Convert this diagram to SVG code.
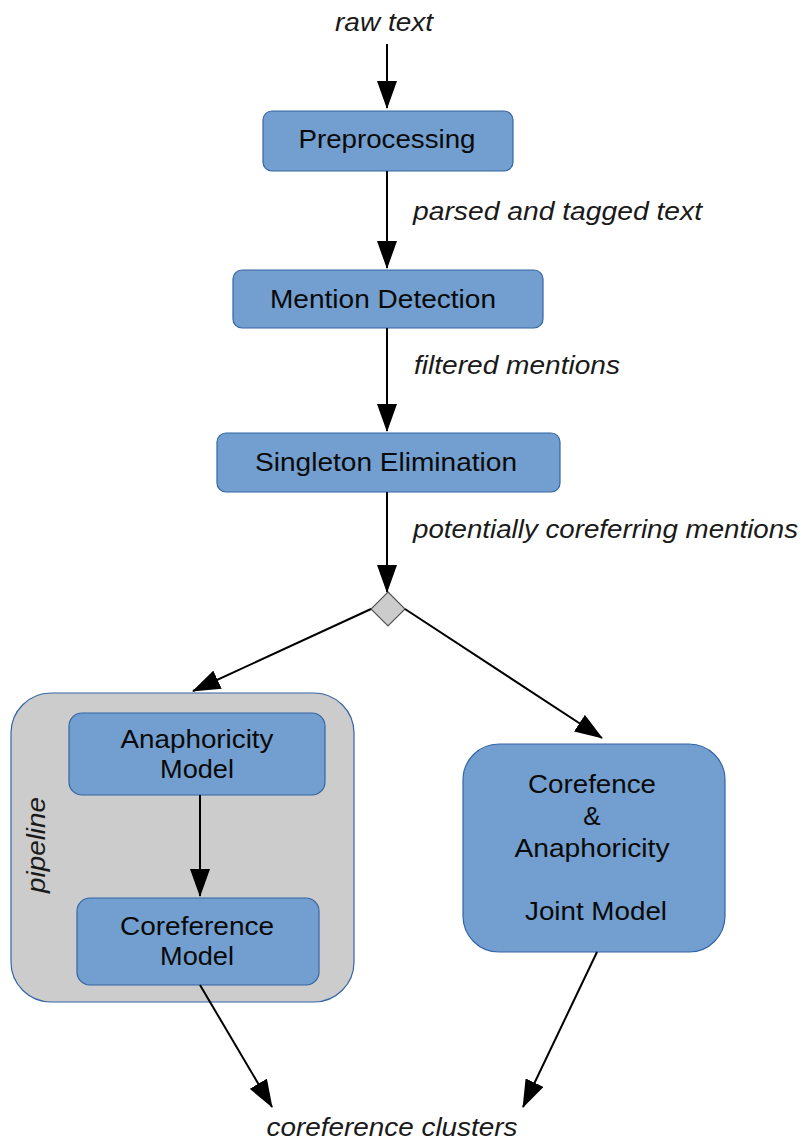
<svg xmlns="http://www.w3.org/2000/svg" width="808" height="1144" viewBox="0 0 808 1144">
  <style>
    .box { fill: #729fcf; stroke: #3465a4; stroke-width: 1.2; }
    .group { fill: #cccccc; stroke: #3465a4; stroke-width: 1.2; }
    .lbl { font-family: "Liberation Sans", Arial, sans-serif; font-size: 26px; fill: #0a0a0a; text-anchor: middle; }
    .note { font-family: "Liberation Sans", Arial, sans-serif; font-size: 26px; font-style: italic; fill: #1a1a1a; }
    .edge { stroke: #000; stroke-width: 2; fill: none; marker-end: url(#head); }
  </style>
  <defs>
    <marker id="head" viewBox="0 0 28 20" refX="27" refY="10" markerWidth="28" markerHeight="20" markerUnits="userSpaceOnUse" orient="auto">
      <path d="M0,0 L28,10 L0,20 Z" fill="#000"/>
    </marker>
  </defs>

  <rect width="808" height="1144" fill="#fff"/>

  <!-- flow labels -->
  <g id="labels">
    <text class="note" x="384" y="31" text-anchor="middle" textLength="98" lengthAdjust="spacingAndGlyphs">raw text</text>
    <text class="note" x="413" y="220" textLength="289" lengthAdjust="spacingAndGlyphs">parsed and tagged text</text>
    <text class="note" x="414" y="374" textLength="206" lengthAdjust="spacingAndGlyphs">filtered mentions</text>
    <text class="note" x="413" y="538" textLength="385" lengthAdjust="spacingAndGlyphs">potentially coreferring mentions</text>
    <text class="note" x="392" y="1136" text-anchor="middle" textLength="251" lengthAdjust="spacingAndGlyphs">coreference clusters</text>
  </g>

  <g id="preprocessing">
    <rect class="box" x="263" y="111" width="250" height="60" rx="9"/>
    <text class="lbl" x="387" y="148" textLength="177" lengthAdjust="spacingAndGlyphs">Preprocessing</text>
  </g>

  <g id="mention-detection">
    <rect class="box" x="233" y="270" width="310" height="58" rx="9"/>
    <text class="lbl" x="383" y="308" textLength="226" lengthAdjust="spacingAndGlyphs">Mention Detection</text>
  </g>

  <g id="singleton-elimination">
    <rect class="box" x="217" y="433" width="343" height="59" rx="9"/>
    <text class="lbl" x="386" y="471" textLength="262" lengthAdjust="spacingAndGlyphs">Singleton Elimination</text>
  </g>

  <g id="branch">
    <path d="M388,592 L405,609 L388,626 L371,609 Z" fill="#cccccc" stroke="#555" stroke-width="1.2"/>
  </g>

  <g id="pipeline">
    <rect class="group" x="11" y="693" width="343" height="309" rx="40"/>
    <text class="note" transform="translate(45,845) rotate(-90)" text-anchor="middle" textLength="96" lengthAdjust="spacingAndGlyphs">pipeline</text>
  </g>

  <g id="anaphoricity-model">
    <rect class="box" x="69" y="713" width="256" height="82" rx="13"/>
    <text class="lbl" x="197" y="748" textLength="153" lengthAdjust="spacingAndGlyphs">Anaphoricity</text>
    <text class="lbl" x="197" y="778" textLength="74" lengthAdjust="spacingAndGlyphs">Model</text>
  </g>

  <g id="coreference-model">
    <rect class="box" x="77" y="898" width="242" height="87" rx="13"/>
    <text class="lbl" x="197" y="935" textLength="154" lengthAdjust="spacingAndGlyphs">Coreference</text>
    <text class="lbl" x="197" y="965" textLength="74" lengthAdjust="spacingAndGlyphs">Model</text>
  </g>

  <g id="joint-model">
    <rect class="box" x="463" y="744" width="262" height="208" rx="36"/>
    <text class="lbl" x="592" y="793" textLength="128" lengthAdjust="spacingAndGlyphs">Corefence</text>
    <text class="lbl" x="592" y="825">&amp;</text>
    <text class="lbl" x="592" y="857" textLength="155" lengthAdjust="spacingAndGlyphs">Anaphoricity</text>
    <text class="lbl" x="596" y="920" textLength="142" lengthAdjust="spacingAndGlyphs">Joint Model</text>
  </g>

  <!-- connectors -->
  <g id="connectors">
    <line class="edge" x1="387" y1="44" x2="387" y2="108"/>
    <line class="edge" x1="387" y1="171" x2="387" y2="268"/>
    <line class="edge" x1="387" y1="328" x2="387" y2="431"/>
    <line class="edge" x1="387" y1="492" x2="387" y2="592"/>
    <line class="edge" x1="371" y1="609" x2="193" y2="691"/>
    <line class="edge" x1="405" y1="609" x2="602" y2="738"/>
    <line class="edge" x1="200" y1="795" x2="200" y2="896"/>
    <line class="edge" x1="200" y1="985" x2="272" y2="1107"/>
    <line class="edge" x1="597" y1="952" x2="523" y2="1107"/>
  </g>
</svg>
